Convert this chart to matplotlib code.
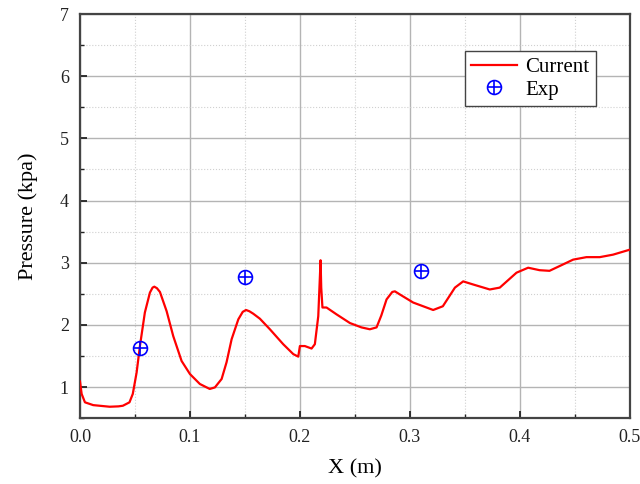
import matplotlib
matplotlib.use("Agg")
import matplotlib.pyplot as plt
from matplotlib.ticker import MultipleLocator
from matplotlib.legend_handler import HandlerTuple

# Simulation ("Current") curve
x_cur = [0.0, 0.0015, 0.0045, 0.012, 0.027, 0.035, 0.039, 0.045, 0.048, 0.0515,
         0.0545, 0.059, 0.0636, 0.0660, 0.0676, 0.0700, 0.0727, 0.0788, 0.0848, 0.0924,
         0.100, 0.109, 0.118, 0.1227, 0.1288, 0.1333, 0.1379, 0.144, 0.148, 0.151,
         0.1540, 0.1576, 0.1636, 0.1727, 0.1848, 0.194, 0.1985, 0.2000, 0.2045, 0.2106,
         0.2136, 0.2167, 0.2188, 0.2194, 0.2205, 0.2242, 0.2333, 0.2455, 0.2560, 0.2636,
         0.2697, 0.2740, 0.2788, 0.2840, 0.2864, 0.2909, 0.303, 0.3212, 0.330, 0.341,
         0.3485, 0.3576, 0.3727, 0.3818, 0.397, 0.4076, 0.418, 0.427, 0.439, 0.4485,
         0.4606, 0.4727, 0.4848, 0.500]
y_cur = [1.09, 0.89, 0.755, 0.71, 0.684, 0.69, 0.70, 0.755, 0.89, 1.235,
         1.66, 2.20, 2.52, 2.60, 2.615, 2.59, 2.53, 2.22, 1.82, 1.42,
         1.21, 1.05, 0.97, 0.995, 1.13, 1.40, 1.77, 2.09, 2.21, 2.24,
         2.22, 2.18, 2.10, 1.93, 1.69, 1.53, 1.49, 1.66, 1.66, 1.62,
         1.69, 2.14, 3.04, 2.60, 2.28, 2.28, 2.17, 2.03, 1.96, 1.93,
         1.96, 2.15, 2.41, 2.53, 2.54, 2.49, 2.36, 2.24, 2.30, 2.60,
         2.70, 2.65, 2.57, 2.60, 2.84, 2.92, 2.88, 2.87, 2.97, 3.05,
         3.09, 3.09, 3.13, 3.21]

# Experimental points
x_exp = [0.055, 0.150, 0.310]
y_exp = [1.63, 2.77, 2.87]

x_ticks = [0.0, 0.1, 0.2, 0.3, 0.4, 0.5]
x_ticklabels = ["0.0", "0.1", "0.2", "0.3", "0.4", "0.5"]
y_ticks = [1, 2, 3, 4, 5, 6, 7]

plt.rcParams['font.family'] = ['Liberation Serif', 'DejaVu Serif']

fig = plt.figure(figsize=(6.4, 4.84), dpi=100)
ax = fig.add_axes([0.125, 0.136, 0.859, 0.835])

line, = ax.plot(x_cur, y_cur, color='#ff0000', lw=1.6, label='Current', zorder=3,
                solid_joinstyle='round')
c = ax.plot(x_exp, y_exp, ls='none', marker='o', ms=10, mfc='none', mec='#0000ff', mew=1.2, zorder=4)[0]
p = ax.plot(x_exp, y_exp, ls='none', marker='+', ms=10, mec='#0000ff', mew=1.2, zorder=4)[0]

ax.set_xlim(0.0, 0.5)
ax.set_ylim(0.5, 7)
ax.set_xticks(x_ticks)
ax.set_xticklabels(x_ticklabels)
ax.set_yticks(y_ticks)
ax.xaxis.set_minor_locator(MultipleLocator(0.05))
ax.yaxis.set_minor_locator(MultipleLocator(0.5))

ax.grid(which='major', color='#b4b4b4', lw=1.0, ls='-')
ax.grid(which='minor', color='#d0d0d0', lw=0.8, ls=':')
ax.set_axisbelow(True)

ax.tick_params(which='both', direction='in', top=False, right=False, labelsize=13,
               colors='#222222', pad=8)
ax.tick_params(which='major', length=5, width=1.3)
ax.tick_params(which='minor', length=3, width=1.0)

for s in ax.spines.values():
    s.set_color('#444444')
    s.set_linewidth(1.6)

ax.set_xlabel('X (m)', fontsize=16, labelpad=9)
ax.set_ylabel('Pressure (kpa)', fontsize=16, labelpad=16)

leg = ax.legend([line, (c, p)], ['Current', 'Exp'],
                handler_map={tuple: HandlerTuple(ndivide=1)},
                loc='upper left', bbox_to_anchor=(0.70, 0.908), borderaxespad=0,
                fontsize=15, frameon=True, fancybox=False, framealpha=1,
                edgecolor='#444444', borderpad=0.3, handlelength=2.2,
                labelspacing=0.15, handletextpad=0.4)
leg.get_frame().set_linewidth(1.0)

fig.savefig('out.png', dpi=100)
